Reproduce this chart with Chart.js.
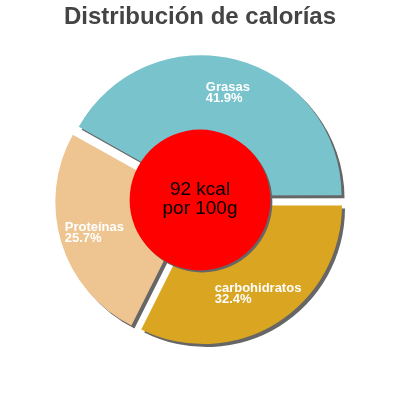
<!DOCTYPE html>
<html>
<head>
<meta charset="utf-8">
<script src="https://cdn.jsdelivr.net/npm/chart.js@4/dist/chart.umd.min.js"></script>
<style>
  html, body { margin: 0; padding: 0; background: #fff; }
  #wrap { width: 400px; height: 400px; }
</style>
</head>
<body>
<div id="wrap"><canvas id="pieChart" width="400" height="400"></canvas></div>
<script>
// clockwise from 3 o'clock, so carbohidratos comes first
const categories = ['carbohidratos', 'Proteínas', 'Grasas'];
const percents = [32.4, 25.7, 41.9];
const sliceColors = ['#DAA520', '#EEC591', '#79C3CC'];
const titleText = 'Distribución de calorías';
const centerLines = ['92 kcal', 'por 100g'];

const SHADOW = '#666666';
const EXPLODE = 7; // px each slice is pushed out

// chart.js moves an arc by offset/4 * (1 + fix), so invert that to get a fixed push
function sliceOffset(ctx) {
  const total = ctx.dataset.data.reduce((a, b) => a + b, 0);
  const circ = ctx.dataset.data[ctx.dataIndex] / total * Math.PI * 2;
  const fix = 1 - Math.sin(Math.min(Math.PI, circ));
  return EXPLODE * 4 / (1 + fix);
}

// gray drop shadow under the slices
const shadowPlugin = {
  id: 'shadow',
  beforeDatasetsDraw(chart) {
    const ctx = chart.ctx;
    ctx.save();
    ctx.shadowColor = SHADOW;
    ctx.shadowOffsetX = 3;
    ctx.shadowOffsetY = 3;
    ctx.shadowBlur = 0;
  },
  afterDatasetsDraw(chart) {
    chart.ctx.restore();
  }
};

// slice labels + red center disc
const labelPlugin = {
  id: 'labels',
  afterDatasetsDraw(chart) {
    const ctx = chart.ctx;
    const meta = chart.getDatasetMeta(0);

    ctx.save();
    ctx.font = 'bold 13px "Liberation Sans", Arial, sans-serif';
    ctx.fillStyle = '#ffffff';
    ctx.textAlign = 'left';
    ctx.textBaseline = 'middle';
    meta.data.forEach((arc, i) => {
      const p = arc.getProps(['x', 'y', 'startAngle', 'endAngle', 'outerRadius'], true);
      const mid = (p.startAngle + p.endAngle) / 2;
      const r = EXPLODE + p.outerRadius * 0.75;
      const cx = p.x + Math.cos(mid) * r;
      const cy = p.y + Math.sin(mid) * r;
      const lines = [categories[i], percents[i].toFixed(1) + '%'];
      const w = Math.max(...lines.map(l => ctx.measureText(l).width));
      ctx.fillText(lines[0], cx - w / 2, cy - 5.5);
      ctx.fillText(lines[1], cx - w / 2, cy + 5.5);
    });
    ctx.restore();

    const c = meta.data[0];
    const discR = c.outerRadius * 0.51;
    ctx.save();
    ctx.shadowColor = SHADOW;
    ctx.shadowOffsetX = 2;
    ctx.shadowOffsetY = 2;
    ctx.beginPath();
    ctx.arc(c.x, c.y, discR, 0, Math.PI * 2);
    ctx.fillStyle = '#ff0000';
    ctx.fill();
    ctx.restore();

    ctx.save();
    ctx.font = '19px "Liberation Sans", Arial, sans-serif';
    ctx.fillStyle = '#000000';
    ctx.textAlign = 'center';
    ctx.textBaseline = 'middle';
    ctx.fillText(centerLines[0], c.x, c.y - 10);
    ctx.fillText(centerLines[1], c.x, c.y + 9);
    ctx.restore();
  }
};

new Chart(document.getElementById('pieChart'), {
  type: 'pie',
  data: {
    labels: categories,
    datasets: [{
      data: percents,
      backgroundColor: sliceColors,
      borderWidth: 0,
      offset: sliceOffset
    }]
  },
  options: {
    responsive: false,
    devicePixelRatio: 1,
    animation: false,
    rotation: 90,
    radius: 138,
    layout: { padding: { bottom: 40.8 } },
    plugins: {
      legend: { display: false },
      tooltip: { enabled: false },
      title: {
        display: true,
        text: titleText,
        color: '#444444',
        font: { family: '"Liberation Sans", Arial, sans-serif', size: 24, weight: 'bold' },
        padding: { top: 3, bottom: 9 }
      }
    }
  },
  plugins: [shadowPlugin, labelPlugin]
});
</script>
</body>
</html>
